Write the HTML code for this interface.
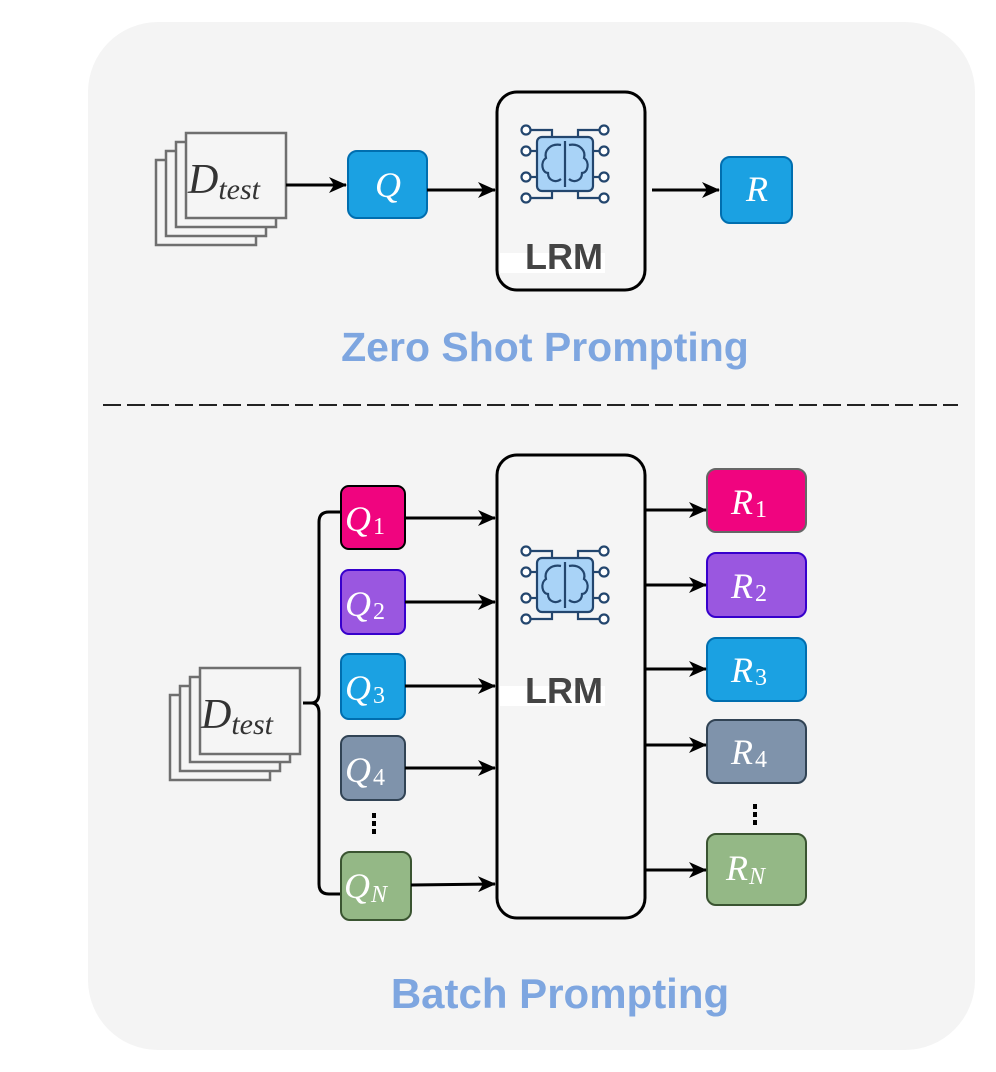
<!DOCTYPE html>
<html><head><style>html,body{margin:0;padding:0;background:#fff}svg{display:block}</style></head><body>
<svg width="996" height="1072" viewBox="0 0 996 1072" xmlns="http://www.w3.org/2000/svg">
<defs>
<marker id="ah" markerWidth="18" markerHeight="16" refX="17" refY="8" orient="auto" markerUnits="userSpaceOnUse"><path d="M0,0 L18,8 L0,16 L5,8 Z" fill="#000"/></marker>
<g id="brain" fill="none" stroke="#23466e" stroke-width="2.2">
<rect x="-23" y="-27" width="56" height="54" rx="5" fill="#a9d3f7"/>
<line x1="5" y1="-23" x2="5" y2="23"/>
<path d="M1,-19 c-11,-2 -17,6 -15,13 c-6,4 -4,15 2,15 c0,8 8,10 13,6"/>
<path d="M9,-19 c11,-2 17,6 15,13 c6,4 4,15 -2,15 c0,8 -8,10 -13,6"/>
<path d="M-8,-27 v-7 h-22"/><path d="M18,-27 v-7 h22"/>
<path d="M-8,27 v7 h-22"/><path d="M18,27 v7 h22"/>
<line x1="-23" y1="-13" x2="-30" y2="-13"/><line x1="-23" y1="13" x2="-30" y2="13"/>
<line x1="33" y1="-13" x2="40" y2="-13"/><line x1="33" y1="13" x2="40" y2="13"/>
<circle cx="-34" cy="-34" r="4.5" fill="#fff"/><circle cx="-34" cy="-13" r="4.5" fill="#fff"/><circle cx="-34" cy="13" r="4.5" fill="#fff"/><circle cx="-34" cy="34" r="4.5" fill="#fff"/>
<circle cx="44" cy="-34" r="4.5" fill="#fff"/><circle cx="44" cy="-13" r="4.5" fill="#fff"/><circle cx="44" cy="13" r="4.5" fill="#fff"/><circle cx="44" cy="34" r="4.5" fill="#fff"/>
</g>
</defs>
<rect x="88" y="22" width="887" height="1028" rx="70" fill="#f4f4f4"/>

<!-- top -->
<g fill="#f5f5f5" stroke="#6f6f6f" stroke-width="2.5">
<rect x="156" y="160" width="100" height="85"/><rect x="166" y="151" width="100" height="85"/><rect x="176" y="142" width="100" height="85"/><rect x="186" y="133" width="100" height="85"/>
</g>
<text x="188" y="193" font-family="Liberation Serif,serif" font-style="italic" font-size="42" fill="#333">D<tspan font-size="30" dy="6">test</tspan></text>
<line x1="286" y1="185" x2="346" y2="185" stroke="#000" stroke-width="3" marker-end="url(#ah)"/>
<rect x="348" y="151" width="79" height="67" rx="9" fill="#1ba1e2" stroke="#006eaf" stroke-width="2"/>
<text x="388" y="197" text-anchor="middle" font-family="Liberation Serif,serif" font-style="italic" font-size="36" fill="#fff">Q</text>
<line x1="427" y1="190" x2="495" y2="190" stroke="#000" stroke-width="3" marker-end="url(#ah)"/>
<rect x="497" y="92" width="148" height="198" rx="20" fill="#f5f5f5" stroke="#000" stroke-width="3"/>
<rect x="500" y="253" width="105" height="20" fill="#fff"/>
<use href="#brain" x="560" y="164"/>
<text x="564" y="269" text-anchor="middle" font-family="Liberation Sans,sans-serif" font-weight="bold" font-size="36" fill="#444">LRM</text>
<line x1="652" y1="190" x2="719" y2="190" stroke="#000" stroke-width="3" marker-end="url(#ah)"/>
<rect x="721" y="157" width="71" height="66" rx="9" fill="#1ba1e2" stroke="#006eaf" stroke-width="2"/>
<text x="757" y="201" text-anchor="middle" font-family="Liberation Serif,serif" font-style="italic" font-size="36" fill="#fff">R</text>
<text x="545" y="361" text-anchor="middle" font-family="Liberation Sans,sans-serif" font-weight="bold" font-size="41" fill="#7ea6e0">Zero Shot Prompting</text>
<line x1="103" y1="405" x2="958" y2="405" stroke="#222" stroke-width="2" stroke-dasharray="18,6"/>

<!-- bottom -->
<g fill="#f5f5f5" stroke="#6f6f6f" stroke-width="2.5">
<rect x="170" y="695" width="100" height="85"/><rect x="180" y="686" width="100" height="85"/><rect x="190" y="677" width="100" height="85"/><rect x="200" y="668" width="100" height="86"/>
</g>
<text x="201" y="728" font-family="Liberation Serif,serif" font-style="italic" font-size="42" fill="#333">D<tspan font-size="30" dy="6">test</tspan></text>
<path d="M303,703 h8 q8,0 8,-10 V522 q0,-10 10,-10 h12 M311,703 q8,0 8,10 V884 q0,10 10,10 h12" fill="none" stroke="#000" stroke-width="3"/>
<rect x="497" y="455" width="148" height="463" rx="20" fill="#f5f5f5" stroke="#000" stroke-width="3"/>
<rect x="500" y="686" width="105" height="20" fill="#fff"/>
<use href="#brain" x="560" y="585"/>
<text x="564" y="703" text-anchor="middle" font-family="Liberation Sans,sans-serif" font-weight="bold" font-size="36" fill="#444">LRM</text>

<g font-family="Liberation Serif,serif" font-style="italic" font-size="36" fill="#fff">
<rect x="341" y="486" width="64" height="63" rx="8" fill="#f0047f" stroke="#000" stroke-width="2"/>
<text x="345" y="531">Q<tspan font-style="normal" font-size="24" dx="2" dy="3">1</tspan></text>
<rect x="341" y="570" width="64" height="64" rx="8" fill="#9a57e0" stroke="#3700cc" stroke-width="2"/>
<text x="345" y="616">Q<tspan font-style="normal" font-size="24" dx="2" dy="3">2</tspan></text>
<rect x="341" y="654" width="64" height="65" rx="8" fill="#1ba1e2" stroke="#006eaf" stroke-width="2"/>
<text x="345" y="700">Q<tspan font-style="normal" font-size="24" dx="2" dy="3">3</tspan></text>
<rect x="341" y="736" width="64" height="64" rx="8" fill="#7f93ab" stroke="#314354" stroke-width="2"/>
<text x="345" y="782">Q<tspan font-style="normal" font-size="24" dx="2" dy="3">4</tspan></text>
<rect x="341" y="852" width="70" height="68" rx="9" fill="#94b886" stroke="#3a5431" stroke-width="2"/>
<text x="344" y="898">Q<tspan font-size="24" dx="1" dy="4">N</tspan></text>

<rect x="707" y="469" width="99" height="63" rx="9" fill="#f0047f" stroke="#666" stroke-width="2"/>
<text x="731" y="514">R<tspan font-style="normal" font-size="24" dx="2" dy="3">1</tspan></text>
<rect x="707" y="553" width="99" height="64" rx="9" fill="#9a57e0" stroke="#3700cc" stroke-width="2"/>
<text x="731" y="598">R<tspan font-style="normal" font-size="24" dx="2" dy="3">2</tspan></text>
<rect x="707" y="638" width="99" height="63" rx="9" fill="#1ba1e2" stroke="#006eaf" stroke-width="2"/>
<text x="731" y="682">R<tspan font-style="normal" font-size="24" dx="2" dy="3">3</tspan></text>
<rect x="707" y="720" width="99" height="63" rx="9" fill="#7f93ab" stroke="#314354" stroke-width="2"/>
<text x="731" y="764">R<tspan font-style="normal" font-size="24" dx="2" dy="3">4</tspan></text>
<rect x="707" y="834" width="99" height="71" rx="9" fill="#94b886" stroke="#3a5431" stroke-width="2"/>
<text x="726" y="880">R<tspan font-size="24" dx="1" dy="4">N</tspan></text>
</g>

<g stroke="#000" stroke-width="3" marker-end="url(#ah)">
<line x1="405" y1="518" x2="495" y2="518"/>
<line x1="405" y1="602" x2="495" y2="602"/>
<line x1="405" y1="686" x2="495" y2="686"/>
<line x1="405" y1="768" x2="495" y2="768"/>
<line x1="411" y1="885" x2="495" y2="884"/>
<line x1="645" y1="510" x2="706" y2="510"/>
<line x1="645" y1="585" x2="706" y2="585"/>
<line x1="645" y1="669" x2="706" y2="669"/>
<line x1="645" y1="745" x2="706" y2="745"/>
<line x1="645" y1="870" x2="706" y2="870"/>
</g>
<g fill="#000">
<rect x="372" y="813" width="4" height="5"/><rect x="372" y="821" width="4" height="5"/><rect x="372" y="829" width="4" height="5"/>
<rect x="753" y="804" width="4" height="5"/><rect x="753" y="812" width="4" height="5"/><rect x="753" y="820" width="4" height="5"/>
</g>
<text x="560" y="1008" text-anchor="middle" font-family="Liberation Sans,sans-serif" font-weight="bold" font-size="42" fill="#7ea6e0">Batch Prompting</text>
</svg>
</body></html>
